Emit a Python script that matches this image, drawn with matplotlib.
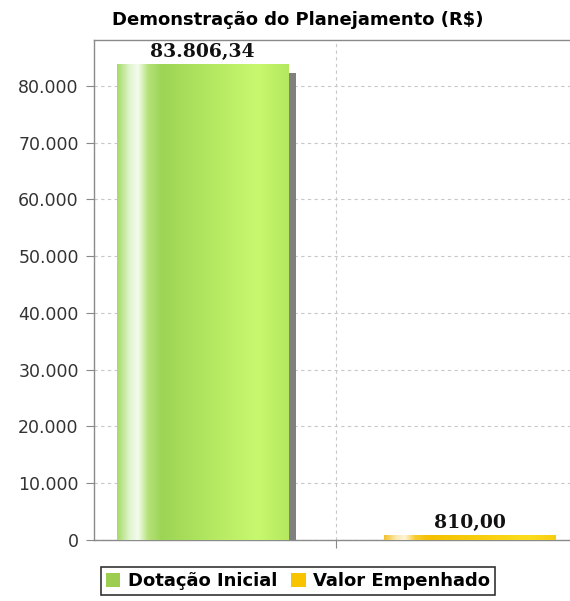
import numpy as np
import matplotlib
matplotlib.use("Agg")
import matplotlib.pyplot as plt
from matplotlib.colors import LinearSegmentedColormap
from matplotlib.patches import Rectangle
from matplotlib.transforms import ScaledTranslation

# data
series = ["Dotação Inicial", "Valor Empenhado"]
values = [83806.34, 810.00]
value_labels = ["83.806,34", "810,00"]
yticks = [0, 10000, 20000, 30000, 40000, 50000, 60000, 70000, 80000]
ytick_labels = ["0", "10.000", "20.000", "30.000", "40.000", "50.000", "60.000", "70.000", "80.000"]
title = "Demonstração do Planejamento (R$)"

green_cmap = LinearSegmentedColormap.from_list("g", [
    (0.0, "#a6da66"), (0.07, "#dff4cc"), (0.12, "#f4fcee"), (0.18, "#b6e27a"),
    (0.26, "#9cd454"), (0.55, "#b4e862"), (0.82, "#c8f86e"), (1.0, "#b4e85e")])
yellow_cmap = LinearSegmentedColormap.from_list("y", [
    (0.0, "#f2c230"), (0.07, "#fbe9b0"), (0.12, "#fff4d8"), (0.18, "#f8cc30"),
    (0.26, "#f4c000"), (0.6, "#f8d010"), (0.85, "#fcdc20"), (1.0, "#f6cc10")])
cmaps = [green_cmap, yellow_cmap]
legend_colors = ["#9ccc50", "#f8c400"]

fig = plt.figure(figsize=(5.70, 6.01), dpi=100)
ax = fig.add_axes([94 / 570, 1 - 540 / 601, (570 - 94) / 570, (540 - 40) / 601])

x = np.arange(len(values))
width = 0.64
bars = ax.bar(x, values, width=width, color="none", zorder=3)

shadow_tr = ax.transData + ScaledTranslation(8 / 100, -9 / 100, fig.dpi_scale_trans)
grad = np.linspace(0, 1, 256).reshape(1, -1)
for b, cm, lab in zip(bars, cmaps, value_labels):
    bx, by, bw, bh = b.get_x(), b.get_y(), b.get_width(), b.get_height()
    ax.add_patch(Rectangle((bx, by), bw, bh, facecolor="#808080", edgecolor="none",
                           transform=shadow_tr, zorder=2, clip_on=True))
    ax.imshow(grad, cmap=cm, aspect="auto", extent=(bx, bx + bw, by, by + bh),
              zorder=3, interpolation="bilinear")
    ax.text(bx + bw / 2, by + bh + 600, lab, ha="center", va="bottom",
            fontsize=13.5, fontweight="bold", family="DejaVu Serif", color="#111111")

ax.set_xlim(-0.405, 1.374)
ax.set_ylim(0, 88100)
ax.set_yticks(yticks)
ax.set_yticklabels(ytick_labels, fontsize=12.5, color="#333333")
ax.set_xticks([0.5])
ax.set_xticklabels([""])
ax.tick_params(axis="both", length=6, color="#888888", width=0.8, pad=5)
ax.grid(True, linestyle=(0, (3, 3)), color="#c8c8c8", linewidth=0.8, zorder=0)

ax.spines["right"].set_visible(False)
for side in ["left", "bottom", "top"]:
    ax.spines[side].set_color("#8a8a8a")
    ax.spines[side].set_linewidth(1.0)

fig.text(298 / 570, 1 - 20 / 601, title, ha="center", va="center",
         fontsize=13, fontweight="bold", family="DejaVu Sans")

handles = [Rectangle((0, 0), 1, 1, facecolor=c, edgecolor="none") for c in legend_colors]
leg = fig.legend(handles, series, loc="center", bbox_to_anchor=(298 / 570, 1 - 581 / 601),
                 ncol=2, frameon=True, fancybox=False, handlelength=0.8, handleheight=0.8,
                 handletextpad=0.4, columnspacing=0.8, borderpad=0.3,
                 prop={"weight": "bold", "size": 13})
leg.get_frame().set_edgecolor("black")
leg.get_frame().set_linewidth(1.2)

fig.savefig("out.png", dpi=100)
